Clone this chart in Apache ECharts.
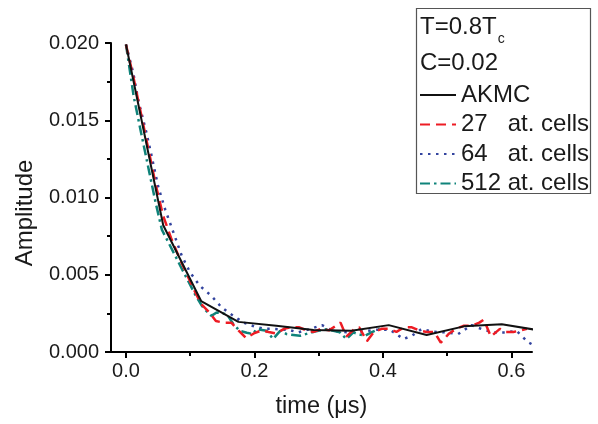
<!DOCTYPE html>
<html>
<head>
<meta charset="utf-8">
<script src="https://cdn.jsdelivr.net/npm/echarts@6/dist/echarts.min.js"></script>
<style>html,body{margin:0;padding:0;background:#fff}#chart{width:598px;height:424px}</style>
</head>
<body>
<div id="chart"></div>
<script>
// ---- data ----
const xTickValues = [0, 0.2, 0.4, 0.6];
const xMinorValues = [0.1, 0.3, 0.5];

const akmcTime = [0, 0.058, 0.117, 0.175, 0.234, 0.292, 0.351, 0.409, 0.468, 0.526, 0.585, 0.643];
const akmcAmp  = [0.0199, 0.0082, 0.0033, 0.00195, 0.00170, 0.00142, 0.00137, 0.00174, 0.00110, 0.00166, 0.00180, 0.00140];

const cells27Time = [0, 0.012, 0.023, 0.035, 0.047, 0.058, 0.070, 0.082, 0.094, 0.105, 0.117, 0.129, 0.140, 0.152, 0.164, 0.175, 0.187, 0.199, 0.211, 0.222, 0.234, 0.246, 0.257, 0.269, 0.281, 0.292, 0.304, 0.316, 0.327, 0.334, 0.343, 0.356, 0.363, 0.375, 0.386, 0.398, 0.409, 0.421, 0.433, 0.445, 0.456, 0.468, 0.480, 0.490, 0.503, 0.514, 0.526, 0.538, 0.550, 0.557, 0.568, 0.582, 0.591, 0.603, 0.615, 0.624];
const cells27Amp  = [0.0199, 0.0177, 0.0155, 0.0131, 0.0107, 0.0088, 0.0074, 0.0062, 0.0051, 0.0041, 0.0031, 0.0026, 0.0020, 0.0019, 0.0019, 0.0014, 0.0009, 0.0012, 0.0014, 0.0013, 0.0012, 0.0015, 0.0016, 0.0016, 0.0014, 0.0013, 0.0015, 0.0014, 0.0017, 0.0019, 0.0010, 0.0015, 0.0016, 0.0007, 0.0013, 0.0015, 0.0015, 0.0013, 0.0016, 0.0016, 0.0014, 0.0013, 0.0013, 0.0006, 0.0012, 0.0015, 0.0017, 0.0017, 0.0019, 0.0021, 0.0010, 0.0015, 0.0013, 0.0013, 0.0014, 0.0015];

const cells64Time = [0, 0.0114, 0.019, 0.032, 0.040, 0.050, 0.061, 0.074, 0.087, 0.100, 0.115, 0.133, 0.149, 0.167, 0.183, 0.200, 0.215, 0.230, 0.245, 0.255, 0.268, 0.286, 0.305, 0.322, 0.335, 0.349, 0.370, 0.390, 0.411, 0.432, 0.445, 0.460, 0.478, 0.499, 0.517, 0.538, 0.554, 0.572, 0.593, 0.608, 0.626, 0.632];
const cells64Amp  = [0.0199, 0.01805, 0.01632, 0.01417, 0.01267, 0.01073, 0.00923, 0.00772, 0.00621, 0.00514, 0.00428, 0.00363, 0.00288, 0.00234, 0.00191, 0.00165, 0.00150, 0.00150, 0.00145, 0.00142, 0.00127, 0.00148, 0.00174, 0.00137, 0.00130, 0.00127, 0.00135, 0.00144, 0.00144, 0.00084, 0.00105, 0.00148, 0.00131, 0.00127, 0.00116, 0.00174, 0.00148, 0.00127, 0.00127, 0.00137, 0.00063, 0.00050];

const cells512Time = [0, 0.012, 0.024, 0.035, 0.046, 0.056, 0.066, 0.077, 0.088, 0.098, 0.108, 0.118, 0.125, 0.133, 0.141, 0.157, 0.167, 0.177, 0.188, 0.198, 0.203, 0.219, 0.229, 0.240, 0.250, 0.271, 0.292, 0.312, 0.333, 0.343, 0.354, 0.361, 0.372, 0.382, 0.395];
const cells512Amp  = [0.0199, 0.01655, 0.0141, 0.0119, 0.0097, 0.0079, 0.0071, 0.0062, 0.0053, 0.0045, 0.0037, 0.0030, 0.00266, 0.00234, 0.00256, 0.00245, 0.00181, 0.00137, 0.00125, 0.00116, 0.00148, 0.00137, 0.00084, 0.00137, 0.00116, 0.00105, 0.00131, 0.00148, 0.00127, 0.00084, 0.00127, 0.00116, 0.00105, 0.00127, 0.00152];

const seriesNames = ['AKMC', '27   at. cells', '64   at. cells', '512 at. cells'];

// ---- build ----
const zip = (t, a) => t.map((v, i) => [v, a[i]]);
const FONT = '"Liberation Sans", Arial, sans-serif';
const TXT = '#1a1a1a';

const ctx = document.createElement('canvas').getContext('2d');
ctx.font = '24px ' + FONT;
const tWidth = ctx.measureText('T=0.8T').width;

const chart = echarts.init(document.getElementById('chart'), null, {renderer: 'canvas'});
const tickStyle = {color: '#000', width: 2};
chart.setOption({
  animation: false,
  backgroundColor: '#fff',
  grid: {left: 111, right: 66, top: 43, bottom: 71, containLabel: false},
  xAxis: [{
    type: 'value', min: -0.0233, max: 0.632,
    name: 'time (\u03bcs)', nameLocation: 'middle', nameGap: 43,
    nameTextStyle: {fontSize: 23.5, fontFamily: FONT, color: TXT},
    axisLine: {show: true, onZero: false, lineStyle: {color: '#000', width: 2}},
    axisTick: {show: true, inside: false, length: 6, customValues: xTickValues, lineStyle: tickStyle},
    axisLabel: {show: true, customValues: xTickValues, margin: 9, fontSize: 20, fontFamily: FONT, color: TXT,
      formatter: v => v.toFixed(1)},
    splitLine: {show: false}
  }, {
    type: 'value', min: -0.0233, max: 0.632, position: 'bottom',
    axisLine: {show: false},
    axisTick: {show: true, inside: false, length: 4, customValues: xMinorValues, lineStyle: tickStyle},
    axisLabel: {show: false},
    splitLine: {show: false}
  }],
  yAxis: {
    type: 'value', min: 0, max: 0.02, interval: 0.005,
    axisLine: {show: true, onZero: false, lineStyle: {color: '#000', width: 2}},
    axisTick: {show: true, inside: false, length: 6, lineStyle: tickStyle},
    minorTick: {show: true, splitNumber: 2, length: 4, lineStyle: tickStyle},
    axisLabel: {margin: 12, fontSize: 20, fontFamily: FONT, color: TXT, formatter: v => v.toFixed(3)},
    splitLine: {show: false}
  },
  legend: {
    left: 419, top: 82, orient: 'vertical', padding: 0,
    itemWidth: 36, itemHeight: 14, itemGap: 3.5, selectedMode: false,
    itemStyle: {opacity: 0},
    textStyle: {fontSize: 24, fontFamily: FONT, color: TXT, lineHeight: 26},
    data: seriesNames
  },
  graphic: [
    {type: 'rect', z: 0, shape: {x: 416.5, y: 8.5, width: 174, height: 185},
     style: {fill: '#fff', stroke: '#555', lineWidth: 1.2}},
    {type: 'text', z: 5, x: 420, y: 27, style: {text: 'T=0.8T', fontSize: 24, fontFamily: FONT, fill: TXT, verticalAlign: 'middle'}},
    {type: 'text', z: 5, x: 420 + tWidth + 1, y: 39, style: {text: 'c', fontSize: 14, fontFamily: FONT, fill: TXT, verticalAlign: 'middle'}},
    {type: 'text', z: 5, x: 420, y: 63, style: {text: 'C=0.02', fontSize: 24, fontFamily: FONT, fill: TXT, verticalAlign: 'middle'}},
    {type: 'text', z: 5, x: 25, y: 213, rotation: Math.PI / 2,
     style: {text: 'Amplitude', fontSize: 24, fontFamily: FONT, fill: TXT, align: 'center', verticalAlign: 'middle'}}
  ],
  series: [
    {name: seriesNames[0], type: 'line', symbol: 'none', data: zip(akmcTime, akmcAmp), z: 5,
     lineStyle: {color: '#111', width: 2}, itemStyle: {color: '#111'}},
    {name: seriesNames[1], type: 'line', symbol: 'none', data: zip(cells27Time, cells27Amp), z: 4,
     lineStyle: {color: '#ed1c24', width: 2.5, type: [10, 6]}, itemStyle: {color: '#ed1c24'}},
    {name: seriesNames[2], type: 'line', symbol: 'none', data: zip(cells64Time, cells64Amp), z: 3,
     lineStyle: {color: '#33449f', width: 2.5, type: [2.5, 5.5]}, itemStyle: {color: '#33449f'}},
    {name: seriesNames[3], type: 'line', symbol: 'none', data: zip(cells512Time, cells512Amp), z: 3,
     lineStyle: {color: '#0f837a', width: 2.5, type: [10, 4, 2.5, 4]}, itemStyle: {color: '#0f837a'}}
  ]
});
</script>
</body>
</html>
